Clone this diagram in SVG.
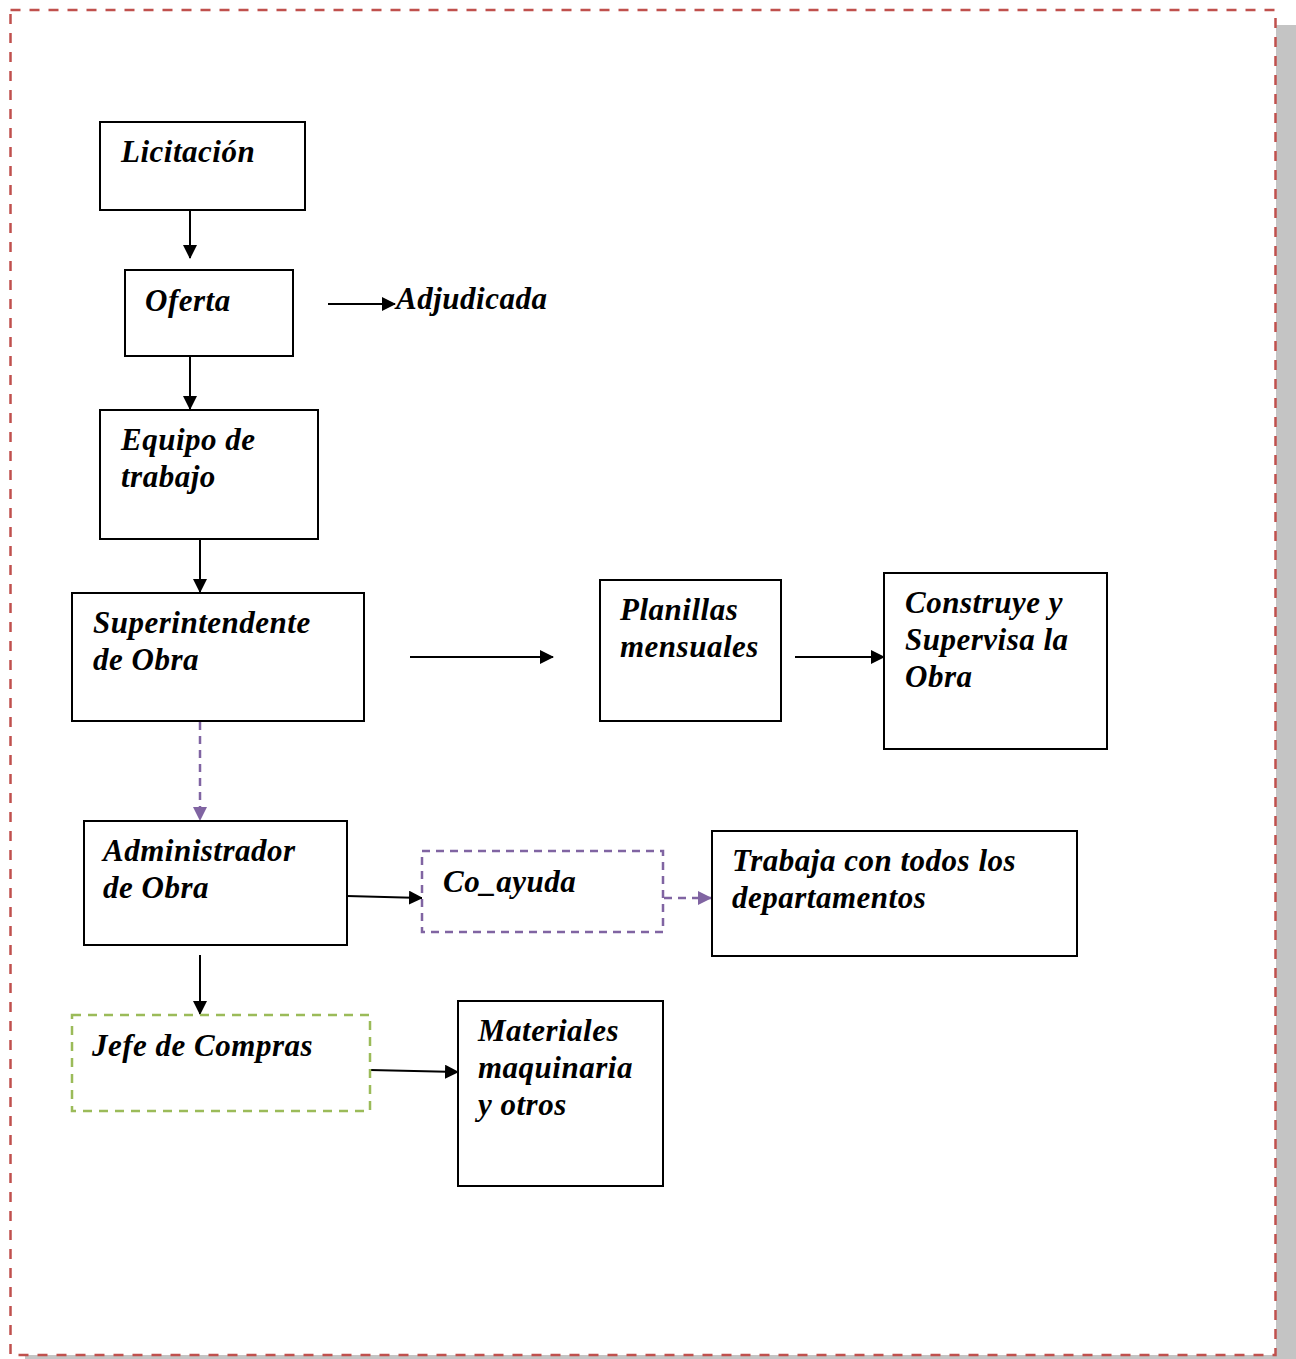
<svg xmlns="http://www.w3.org/2000/svg" width="1296" height="1359" viewBox="0 0 1296 1359">
<style>
.box{fill:#fff;stroke:#000;stroke-width:2}
.t{font-family:"Liberation Serif","Times New Roman",serif;font-weight:bold;font-style:italic;font-size:31px;letter-spacing:0.5px;fill:#000}
.c{stroke:#000;stroke-width:2;fill:none}
.p{stroke:#8064a2;stroke-width:2.5;fill:none;stroke-dasharray:8,6}
</style>
<defs>
<marker id="ap" markerWidth="14" markerHeight="14" refX="13" refY="7" orient="auto" markerUnits="userSpaceOnUse" viewBox="0 0 14 14"><path d="M0,0L14,7L0,14z" fill="#8064a2"/></marker>
<marker id="ak" markerWidth="14" markerHeight="14" refX="13" refY="7" orient="auto" markerUnits="userSpaceOnUse" viewBox="0 0 14 14"><path d="M0,0L14,7L0,14z" fill="#000"/></marker>
</defs>
<rect x="0" y="0" width="1296" height="1359" fill="#fff"/>
<rect x="1276" y="25" width="20" height="1334" fill="#c4c4c4"/>
<rect x="25" y="1355" width="1271" height="4" fill="#c4c4c4"/>
<rect x="10.5" y="10" width="1265" height="1345" fill="#fff" stroke="#c0504d" stroke-width="2.5" stroke-dasharray="10,9"/>

<g id="connectors">
<line class="c" x1="190" y1="210" x2="190" y2="258" marker-end="url(#ak)"/>
<line class="c" x1="190" y1="356" x2="190" y2="409" marker-end="url(#ak)"/>
<line class="c" x1="200" y1="539" x2="200" y2="592" marker-end="url(#ak)"/>
<line class="c" x1="328" y1="304" x2="395" y2="304" marker-end="url(#ak)"/>
<line class="c" x1="410" y1="657" x2="553" y2="657" marker-end="url(#ak)"/>
<line class="c" x1="795" y1="657" x2="884" y2="657" marker-end="url(#ak)"/>
<line class="p" x1="200" y1="722" x2="200" y2="820" marker-end="url(#ap)"/>
<line class="c" x1="347" y1="896" x2="422" y2="898" marker-end="url(#ak)"/>
<line class="p" x1="664" y1="898" x2="711" y2="898" marker-end="url(#ap)"/>
<line class="c" x1="200" y1="955" x2="200" y2="1014" marker-end="url(#ak)"/>
<line class="c" x1="370" y1="1070" x2="458" y2="1072" marker-end="url(#ak)"/>
</g>

<g id="licitacion"><rect class="box" x="100" y="122" width="205" height="88"/><text class="t" x="121" y="162">Licitación</text></g>
<g id="oferta"><rect class="box" x="125" y="270" width="168" height="86"/><text class="t" x="145" y="311">Oferta</text></g>
<g id="adjudicada"><text class="t" x="396" y="309">Adjudicada</text></g>
<g id="equipo"><rect class="box" x="100" y="410" width="218" height="129"/><text class="t" x="121" y="450">Equipo de</text><text class="t" x="121" y="487">trabajo</text></g>
<g id="superintendente"><rect class="box" x="72" y="593" width="292" height="128"/><text class="t" x="93" y="633">Superintendente</text><text class="t" x="93" y="670">de Obra</text></g>
<g id="planillas"><rect class="box" x="600" y="580" width="181" height="141"/><text class="t" x="620" y="620">Planillas</text><text class="t" x="620" y="657">mensuales</text></g>
<g id="construye"><rect class="box" x="884" y="573" width="223" height="176"/><text class="t" x="905" y="613">Construye y</text><text class="t" x="905" y="650">Supervisa la</text><text class="t" x="905" y="687">Obra</text></g>
<g id="administrador"><rect class="box" x="84" y="821" width="263" height="124"/><text class="t" x="103" y="861">Administrador</text><text class="t" x="103" y="898">de Obra</text></g>
<g id="coayuda"><rect x="422" y="851" width="241" height="81" fill="#fff" stroke="#8064a2" stroke-width="2.5" stroke-dasharray="8,6"/><text class="t" x="443" y="892">Co_ayuda</text></g>
<g id="trabaja"><rect class="box" x="712" y="831" width="365" height="125"/><text class="t" x="732" y="871">Trabaja con todos los</text><text class="t" x="732" y="908">departamentos</text></g>
<g id="jefe"><rect x="72" y="1015" width="298" height="96" fill="#fff" stroke="#9bbb59" stroke-width="2.5" stroke-dasharray="9,7"/><text class="t" x="92" y="1056">Jefe de Compras</text></g>
<g id="materiales"><rect class="box" x="458" y="1001" width="205" height="185"/><text class="t" x="478" y="1041">Materiales</text><text class="t" x="478" y="1078">maquinaria</text><text class="t" x="478" y="1115">y otros</text></g>
</svg>
